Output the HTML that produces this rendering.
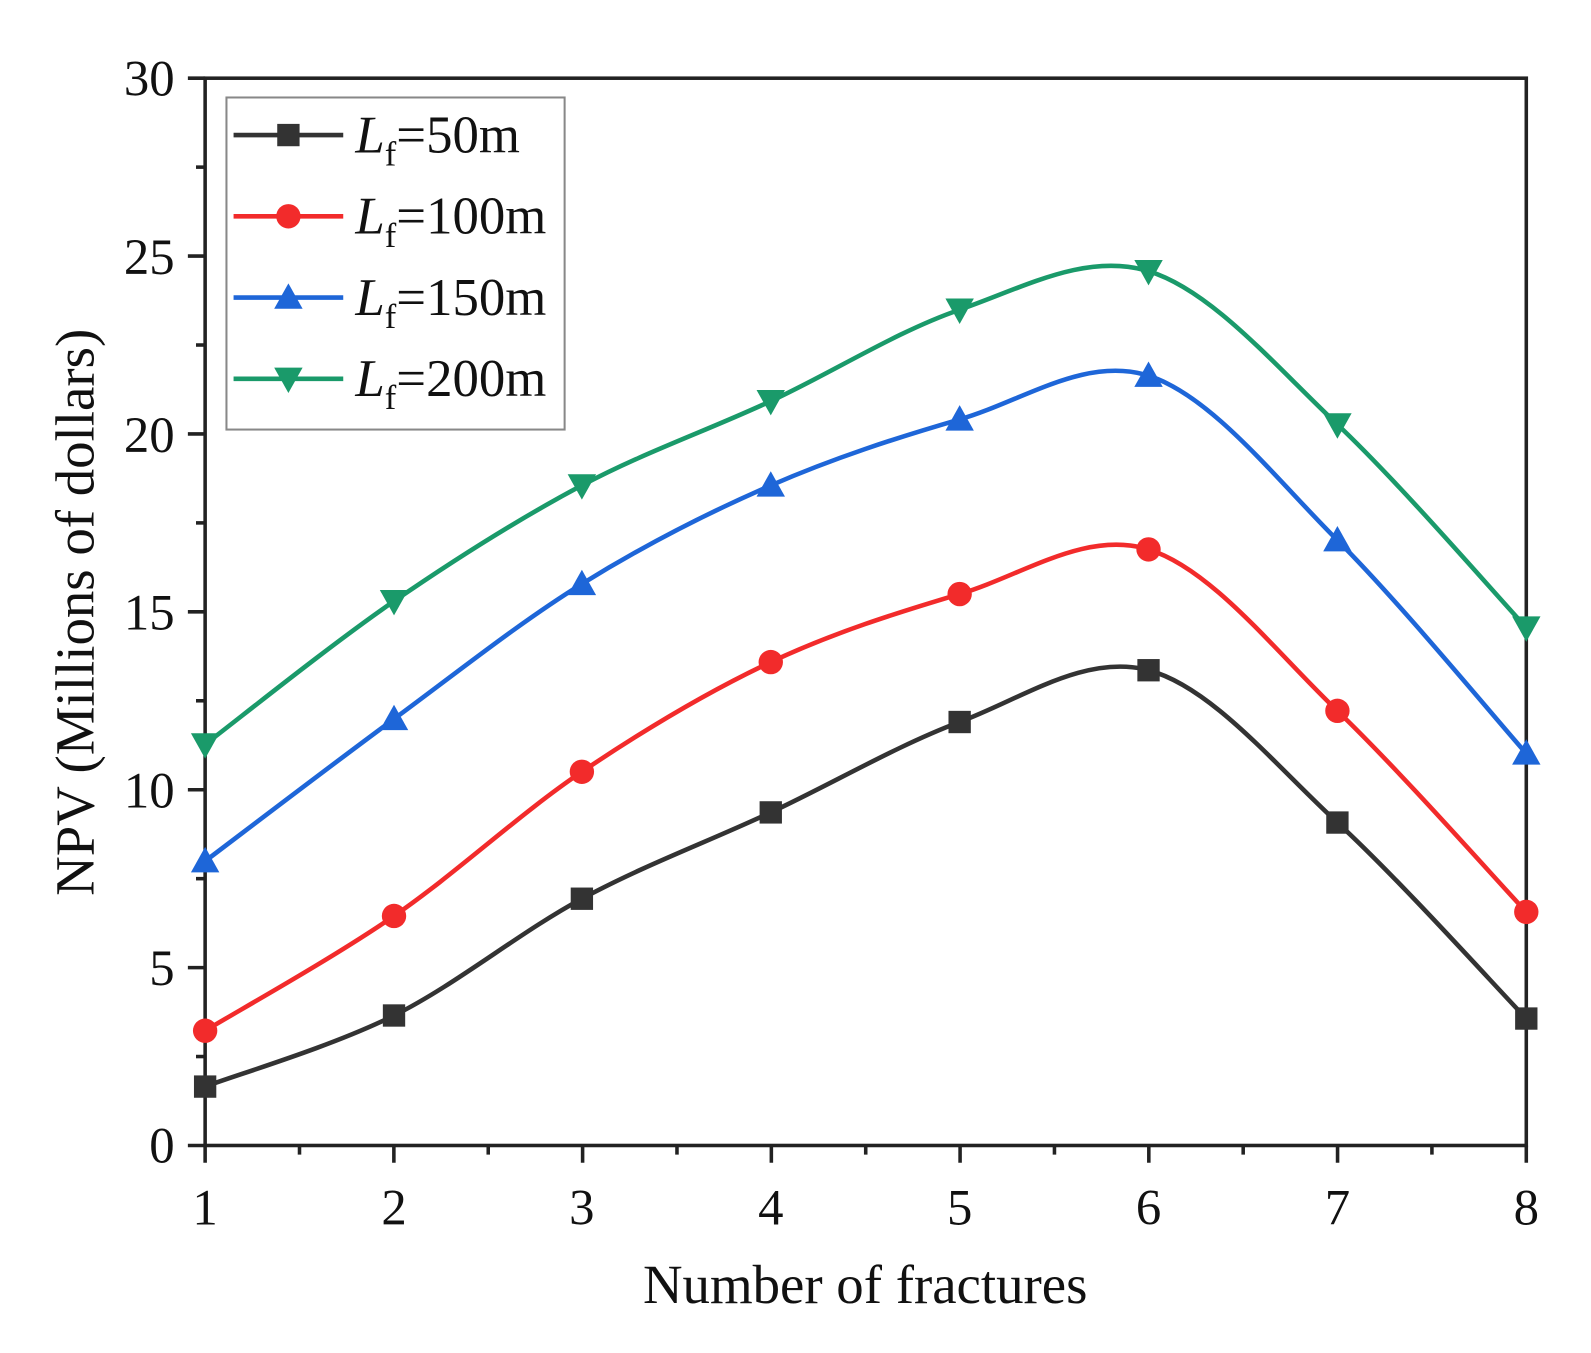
<!DOCTYPE html>
<html><head><meta charset="utf-8"><style>
html,body{margin:0;padding:0;background:#fff;}
svg{display:block;font-family:"Liberation Serif",serif;}
</style></head><body>
<svg id="s" width="1591" height="1353" viewBox="0 0 1591 1353" xmlns="http://www.w3.org/2000/svg">
<rect x="0" y="0" width="1591" height="1353" fill="#fff"/>
<g transform="scale(1.0155)">
<rect x="202" y="77" width="1301" height="1051" fill="none" stroke="#222" stroke-width="3.5"/>
<g id="ticks" stroke="#222" stroke-width="3.5"></g>
<g id="series"></g>
<g font-size="50" fill="#111" text-anchor="end">
<text x="172" y="1145">0</text><text x="172" y="970">5</text><text x="172" y="795">10</text>
<text x="172" y="620">15</text><text x="172" y="445">20</text><text x="172" y="270">25</text><text x="172" y="94">30</text>
</g>
<g font-size="50" fill="#111" text-anchor="middle">
<text x="202" y="1206">1</text><text x="388" y="1206">2</text><text x="573" y="1206">3</text><text x="759" y="1206">4</text>
<text x="945" y="1206">5</text><text x="1131" y="1206">6</text><text x="1317" y="1206">7</text><text x="1503" y="1206">8</text>
</g>
<text x="852" y="1283" font-size="54" fill="#111" text-anchor="middle">Number of fractures</text>
<text transform="translate(92,603) rotate(-90)" font-size="54" fill="#111" text-anchor="middle">NPV (Millions of dollars)</text>
<rect x="223" y="96" width="333" height="327" fill="#fff" stroke="#888" stroke-width="2"/>
<g id="legend"></g>
</g>
</svg>
<script>
const NS="http://www.w3.org/2000/svg";
const X=[202,388,573,759,945,1131,1317,1503];
const S=[
{c:"#333333",m:"sq",t:"50m",y:[1070,1000,885,800,711,660,810,1003]},
{c:"#f22b2b",m:"ci",t:"100m",y:[1015,902,760,652,585,541,700,898]},
{c:"#1e66d8",m:"up",t:"150m",y:[848,708,575,478,413,370,532,742]},
{c:"#1a9a6a",m:"dn",t:"200m",y:[733,592,478,395,305,267,418,618]}];
function el(n,a,p){const e=document.createElementNS(NS,n);for(const k in a)e.setAttribute(k,a[k]);p.appendChild(e);return e;}
const tk=document.getElementById("ticks");
for(let i=0;i<=12;i++){const y=1128-i*(1051/12);const L=i%2?9:17;el("line",{x1:202-L,x2:202,y1:y,y2:y},tk);}
for(let i=0;i<=14;i++){const x=202+i*(1301/14);const L=i%2?9:17;el("line",{x1:x,x2:x,y1:1128,y2:1128+L},tk);}
function marker(m,x,y,c,g){
 if(m=="sq")el("rect",{x:x-11,y:y-11,width:22,height:22,fill:c},g);
 else if(m=="ci")el("circle",{cx:x,cy:y,r:12,fill:c},g);
 else if(m=="up")el("polygon",{points:`${x},${y-14} ${x+14},${y+11} ${x-14},${y+11}`,fill:c},g);
 else el("polygon",{points:`${x},${y+14} ${x+14},${y-11} ${x-14},${y-11}`,fill:c},g);
}
const sg=document.getElementById("series");
S.forEach(s=>{
 const P=X.map((x,i)=>[x,s.y[i]]);
 let d=`M${P[0][0]},${P[0][1]}`;
 for(let i=0;i<P.length-1;i++){
  const p0=P[Math.max(0,i-1)],p1=P[i],p2=P[i+1],p3=P[Math.min(P.length-1,i+2)];
  const c1=[p1[0]+(p2[0]-p0[0])/6,p1[1]+(p2[1]-p0[1])/6];
  const c2=[p2[0]-(p3[0]-p1[0])/6,p2[1]-(p3[1]-p1[1])/6];
  d+=` C${c1[0]},${c1[1]} ${c2[0]},${c2[1]} ${p2[0]},${p2[1]}`;
 }
 el("path",{d:d,fill:"none",stroke:s.c,"stroke-width":4.5},sg);
 P.forEach(p=>marker(s.m,p[0],p[1],s.c,sg));
});
const lg=document.getElementById("legend");
S.forEach((s,i)=>{
 const y=133+i*80;
 el("line",{x1:230,x2:338,y1:y,y2:y,stroke:s.c,"stroke-width":4.5},lg);
 marker(s.m,284,y,s.c,lg);
 const t=el("text",{x:350,y:y+17,"font-size":52,fill:"#111"},lg);
 t.innerHTML=`<tspan font-style="italic">L</tspan><tspan font-size="34" dy="13">f</tspan><tspan dy="-13">=${s.t}</tspan>`;
});
</script>
</body></html>
